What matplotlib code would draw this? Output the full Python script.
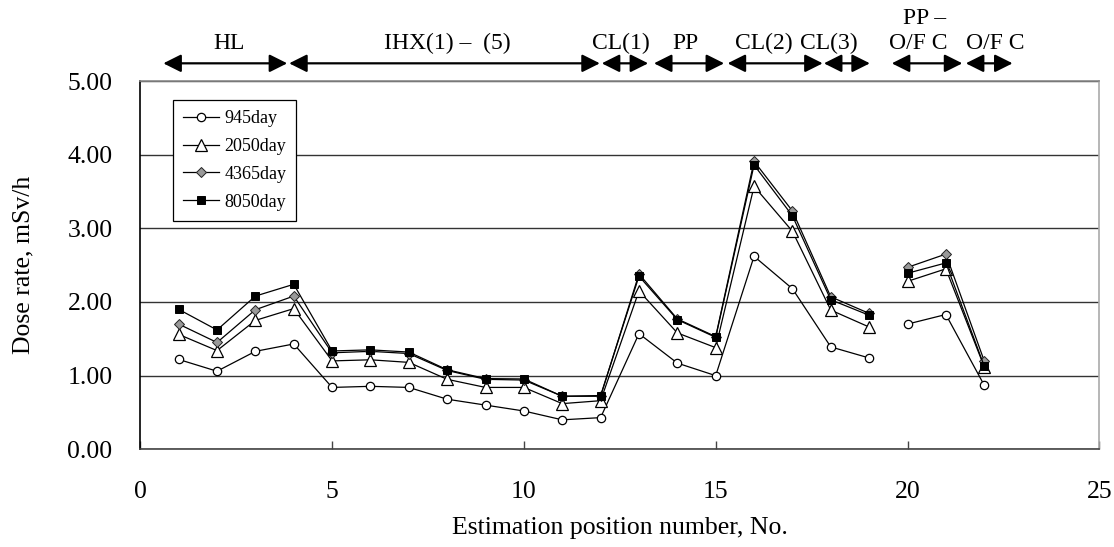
import numpy as np
import matplotlib
matplotlib.use("Agg")
import matplotlib.pyplot as plt
from matplotlib import transforms

plt.rcParams['font.family'] = ['Liberation Serif', 'DejaVu Serif']

# ---------------- data ----------------
pos_a = [1, 2, 3, 4, 5, 6, 7, 8, 9, 10, 11, 12, 13, 14, 15, 16, 17, 18, 19]
pos_b = [20, 21, 22]

d945_a = [1.22, 1.06, 1.33, 1.43, 0.84, 0.855, 0.84, 0.68, 0.60, 0.52, 0.40, 0.43,
          1.57, 1.17, 1.00, 2.62, 2.18, 1.39, 1.24]
d945_b = [1.70, 1.83, 0.87]

d2050_a = [1.56, 1.34, 1.75, 1.91, 1.20, 1.215, 1.18, 0.95, 0.84, 0.84, 0.62, 0.66,
           2.15, 1.58, 1.38, 3.57, 2.96, 1.89, 1.66]
d2050_b = [2.28, 2.45, 1.12]

d4365_a = [1.70, 1.45, 1.895, 2.08, 1.31, 1.33, 1.30, 1.07, 0.95, 0.94, 0.72, 0.72,
           2.38, 1.77, 1.53, 3.91, 3.235, 2.07, 1.845]
d4365_b = [2.47, 2.65, 1.20]

d8050_a = [1.90, 1.62, 2.08, 2.24, 1.335, 1.35, 1.32, 1.08, 0.96, 0.955, 0.72, 0.73,
           2.35, 1.76, 1.52, 3.86, 3.17, 2.03, 1.82]
d8050_b = [2.39, 2.53, 1.13]

labels = ["945day", "2050day", "4365day", "8050day"]

# region arrows (start, end) along the x axis
region_start = [0.6, 3.88, 12.03, 13.39, 15.31, 17.82, 19.59, 21.52]
region_end = [3.83, 11.98, 13.24, 15.22, 17.79, 19.02, 21.43, 22.74]

# region labels (text, x, row)  row 0 = just above the arrows, row 1 = one line higher
region_text = ["HL", "IHX(1) –  (5)", "CL(1)", "PP", "CL(2)", "CL(3)", "PP –", "O/F C", "O/F C"]
region_text_x = [2.31, 8.0, 12.53, 14.2, 16.26, 17.95, 20.45, 20.27, 22.3]
region_text_row = [0, 0, 0, 0, 0, 0, 1, 0, 0]

xticks = [0, 5, 10, 15, 20, 25]
yticks = [0, 1, 2, 3, 4, 5]

# ---------------- figure ----------------
W, H = 1114, 547
fig = plt.figure(figsize=(W / 100, H / 100), dpi=100)
ax = fig.add_axes([140.3 / W, 1 - 449.3 / H, (1099.3 - 140.3) / W, (449.3 - 81) / H])

styles = [
    dict(marker='o', markersize=6, markerfacecolor='white', markeredgecolor='black', markeredgewidth=0.9),
    dict(marker='^', markersize=8.5, markerfacecolor='white', markeredgecolor='black', markeredgewidth=0.9),
    dict(marker='D', markersize=5, markerfacecolor='#999999', markeredgecolor='#222222', markeredgewidth=0.7),
    dict(marker='s', markersize=5.5, markerfacecolor='black', markeredgecolor='black', markeredgewidth=0.7),
]
series_a = [d945_a, d2050_a, d4365_a, d8050_a]
series_b = [d945_b, d2050_b, d4365_b, d8050_b]

for i, (sa, sb, lab, st) in enumerate(zip(series_a, series_b, labels, styles)):
    ax.plot(pos_a, sa, color='black', lw=0.9, label=lab, zorder=3 + i, **st)
    ax.plot(pos_b, sb, color='black', lw=0.9, zorder=3 + i, **st)

ax.set_xlim(0, 25)
ax.set_ylim(0, 5)
ax.set_xticks(xticks)
ax.set_yticks(yticks)
ax.yaxis.set_major_formatter(matplotlib.ticker.FormatStrFormatter('%.2f'))
ax.grid(axis='y', color='#333333', lw=1.0)
ax.set_axisbelow(True)

for s, c in [('left', 'black'), ('bottom', '#444444'), ('top', '#888888'), ('right', '#aaaaaa')]:
    ax.spines[s].set_color(c)
    ax.spines[s].set_linewidth(1.2)

ax.tick_params(axis='x', direction='in', length=6, width=1, color='#444444',
               labelsize=18.5, pad=23)
ax.tick_params(axis='y', direction='in', length=0, labelsize=18.5, pad=20)

ax.set_xlabel("Estimation position number, No.", fontsize=18.5, labelpad=10)
ax.set_ylabel("Dose rate, mSv/h", fontsize=18.5, labelpad=24)

leg = ax.legend(loc='upper left', bbox_to_anchor=(0.034, 0.948), borderaxespad=0,
                fancybox=False, edgecolor='black', framealpha=1, fontsize=13,
                handlelength=2.0, handletextpad=0.3, labelspacing=0.6,
                borderpad=0.55)
leg.get_frame().set_linewidth(0.9)

# region arrows
trans = transforms.blended_transform_factory(ax.transData, ax.transAxes)
for xs, xe in zip(region_start, region_end):
    ax.annotate('', xy=(xe, 1.048), xytext=(xs, 1.048), xycoords=trans, textcoords=trans,
                arrowprops=dict(arrowstyle='<|-|>,head_length=0.6,head_width=0.3',
                                mutation_scale=18, color='black', lw=1.6,
                                shrinkA=0, shrinkB=0), annotation_clip=False)
for txt, tx, row in zip(region_text, region_text_x, region_text_row):
    ax.text(tx, 1.103 + 0.066 * row, txt, transform=trans, ha='center', va='center',
            fontsize=17)

fig.savefig("out.png", dpi=100)
